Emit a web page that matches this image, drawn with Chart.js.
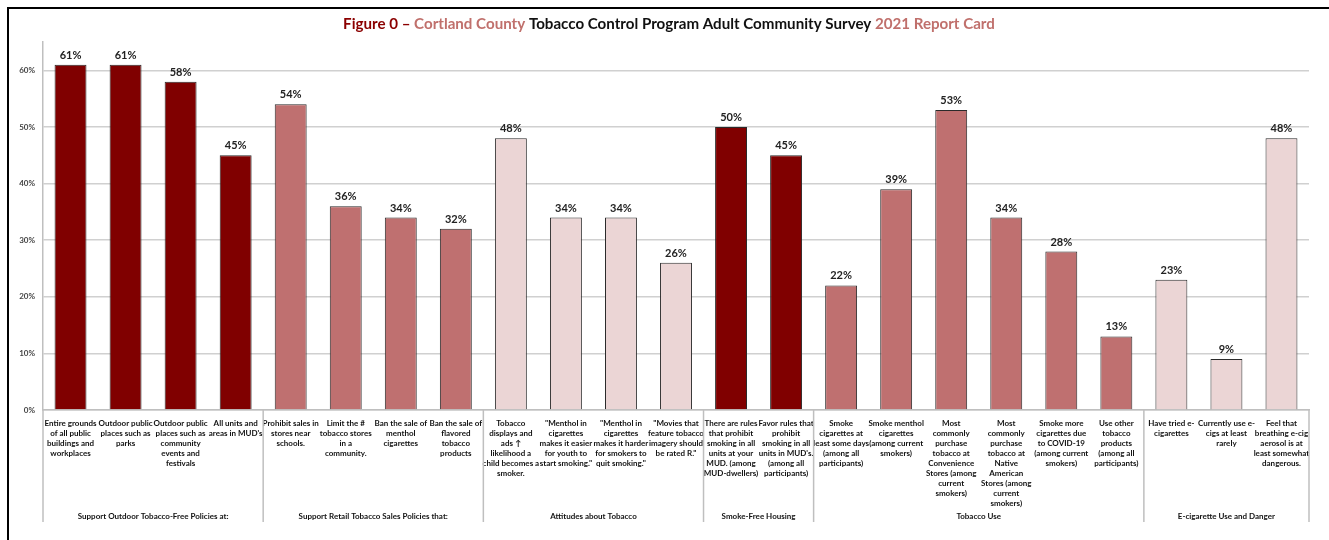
<!DOCTYPE html>
<html>
<head>
<meta charset="utf-8">
<script src="https://cdn.jsdelivr.net/npm/chart.js@4/dist/chart.umd.min.js"></script>
<style>
	body { margin: 0; background: #fff; }
	#wrap { width: 1329px; height: 540px; position: relative; }
</style>
</head>
<body>
<div id="wrap"><canvas id="surveyChart" width="1329" height="540"></canvas></div>
<script>
const categories = [
	["Entire grounds", "of all public", "buildings and", "workplaces"],
	["Outdoor public", "places such as", "parks"],
	["Outdoor public", "places such as", "community", "events and", "festivals"],
	["All units and", "areas in MUD's"],
	["Prohibit sales in", "stores near", "schools."],
	["Limit the #", "tobacco stores", "in a", "community."],
	["Ban the sale of", "menthol", "cigarettes"],
	["Ban the sale of", "flavored", "tobacco", "products"],
	["Tobacco", "displays and", "ads \u2191", "likelihood a", "child becomes a", "smoker."],
	["\"Menthol in", "cigarettes", "makes it easier", "for youth to", "start smoking.\""],
	["\"Menthol in", "cigarettes", "makes it harder", "for smokers to", "quit smoking.\""],
	["\"Movies that", "feature tobacco", "imagery should", "be rated R.\""],
	["There are rules", "that prohibit", "smoking in all", "units at your", "MUD. (among", "MUD-dwellers)"],
	["Favor rules that", "prohibit", "smoking in all", "units in MUD's.", "(among all", "participants)"],
	["Smoke", "cigarettes at", "least some days", "(among all", "participants)"],
	["Smoke menthol", "cigarettes", "(among current", "smokers)"],
	["Most", "commonly", "purchase", "tobacco at", "Convenience", "Stores (among", "current", "smokers)"],
	["Most", "commonly", "purchase", "tobacco at", "Native", "American", "Stores (among", "current", "smokers)"],
	["Smoke more", "cigarettes due", "to COVID-19", "(among current", "smokers)"],
	["Use other", "tobacco", "products", "(among all", "participants)"],
	["Have tried e-", "cigarettes"],
	["Currently use e-", "cigs at least", "rarely"],
	["Feel that", "breathing e-cig", "aerosol is at", "least somewhat", "dangerous."]
];

const values = [0.61, 0.61, 0.58, 0.45, 0.54, 0.36, 0.34, 0.32, 0.48, 0.34, 0.34, 0.26,
	0.50, 0.45, 0.22, 0.39, 0.53, 0.34, 0.28, 0.13, 0.23, 0.09, 0.48];

const groupNames = ["Support Outdoor Tobacco-Free Policies at:", "Support Retail Tobacco Sales Policies that:",
	"Attitudes about Tobacco", "Smoke-Free Housing", "Tobacco Use", "E-cigarette Use and Danger"];
const groupSizes = [4, 4, 4, 2, 6, 3];
const groupColors = ["#800000", "#bf7070", "#ebd5d5", "#800000", "#bf7070", "#ebd5d5"];

const yTicks = [0, 0.1, 0.2, 0.3, 0.4, 0.5, 0.6];

const FONT = "Lato, 'Open Sans', sans-serif";

let barColors = [];
groupSizes.forEach((n, i) => {
	for (let k = 0; k < n; k++) barColors.push(groupColors[i]);
});

const frame = {
	id: 'frame',
	beforeDraw(chart) {
		const ctx = chart.ctx;
		ctx.save();
		ctx.fillStyle = '#fff';
		ctx.fillRect(0, 0, chart.width, chart.height);
		ctx.strokeStyle = '#000';
		ctx.lineWidth = 2;
		ctx.beginPath();
		ctx.moveTo(8, chart.height + 5);
		ctx.lineTo(8, 8);
		ctx.lineTo(chart.width + 5, 8);
		ctx.stroke();
		ctx.restore();
	},
	afterDraw(chart) {
		const ctx = chart.ctx;
		ctx.save();
		// title, sized to the reference width
		const parts = [
			["Figure 0 \u2013 ", "#8b0000"],
			["Cortland County ", "#c0706c"],
			["Tobacco Control Program Adult Community Survey ", "#111"],
			["2021 Report Card", "#c0706c"]
		];
		ctx.font = "bold 16px " + FONT;
		let total = parts.reduce((s, p) => s + ctx.measureText(p[0]).width, 0);
		let size = Math.min(17, 16 * 652 / total);
		ctx.font = "bold " + size.toFixed(2) + "px " + FONT;
		total = parts.reduce((s, p) => s + ctx.measureText(p[0]).width, 0);
		ctx.textBaseline = 'middle';
		ctx.textAlign = 'left';
		let x = 669 - total / 2;
		parts.forEach(p => {
			ctx.fillStyle = p[1];
			ctx.fillText(p[0], x, 24);
			x += ctx.measureText(p[0]).width;
		});

		// group separators and names
		const area = chart.chartArea;
		const step = (area.right - area.left) / categories.length;
		ctx.strokeStyle = '#bfbfbf';
		ctx.lineWidth = 1.5;
		let idx = 0;
		const bounds = [area.left];
		groupSizes.forEach(n => { idx += n; bounds.push(area.left + idx * step); });
		bounds.forEach(b => {
			ctx.beginPath();
			ctx.moveTo(b, area.bottom);
			ctx.lineTo(b, 522);
			ctx.stroke();
		});
		ctx.fillStyle = '#111';
		ctx.font = "bold 8px " + FONT;
		ctx.textAlign = 'center';
		groupNames.forEach((g, i) => {
			ctx.fillText(g, (bounds[i] + bounds[i + 1]) / 2, 516);
		});

		// value labels
		const meta = chart.getDatasetMeta(0);
		ctx.font = "bold 11px " + FONT;
		ctx.fillStyle = '#222';
		ctx.textBaseline = 'bottom';
		meta.data.forEach((bar, i) => {
			ctx.fillText(Math.round(values[i] * 100) + '%', bar.x, bar.y - 4);
		});
		ctx.restore();
	}
};

new Chart(document.getElementById("surveyChart"), {
	type: 'bar',
	data: {
		labels: categories,
		datasets: [{
			data: values,
			backgroundColor: barColors,
			borderColor: '#2a2a2a',
			borderWidth: 1,
			barPercentage: 0.58,
			categoryPercentage: 1
		}]
	},
	options: {
		responsive: false,
		animation: false,
		layout: { padding: { left: 8, right: 20, top: 42, bottom: 5 } },
		plugins: { legend: { display: false }, tooltip: { enabled: false } },
		scales: {
			x: {
				grid: { display: false },
				border: { display: true, color: '#bfbfbf', width: 1.5 },
				afterFit: s => { s.height = 125; },
				ticks: {
					autoSkip: false,
					maxRotation: 0,
					minRotation: 0,
					padding: 0,
					color: '#111',
					font: { family: FONT, size: 8, weight: 'bold', lineHeight: 1.25 }
				}
			},
			y: {
				min: 0,
				max: 0.65,
				afterFit: s => { s.width = 35; },
				afterBuildTicks: s => { s.ticks = yTicks.map(v => ({ value: v })); },
				grid: { color: '#d0d0d0', lineWidth: 1.5, drawTicks: false },
				border: { display: true, color: '#bfbfbf', width: 1.5 },
				ticks: {
					padding: 8,
					color: '#444',
					font: { family: FONT, size: 8, weight: 'bold' },
					callback: v => Math.round(v * 100) + '%'
				}
			}
		}
	},
	plugins: [frame]
});
</script>
</body>
</html>
